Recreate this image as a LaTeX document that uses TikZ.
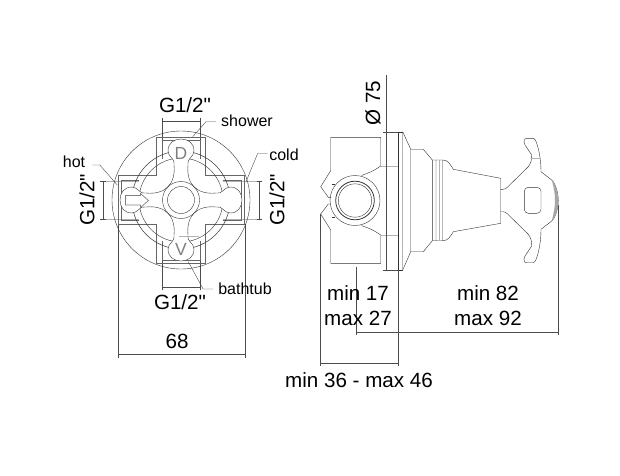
\documentclass[tikz,border=0pt]{standalone}
\usepackage{fontspec}
\newfontfamily\labelfont{Liberation Sans}
\tikzset{
  part/.style={line width=0.4pt,black!80},
  portline/.style={line width=0.35pt,black!60},
  greyline/.style={line width=1.1pt,black!30},
  dimline/.style={line width=0.4pt,black!70,|-|},
  extline/.style={line width=0.4pt,black!70},
  bigtext/.style={font=\labelfont\fontsize{20.6}{24}\selectfont,inner sep=0pt},
  smalltext/.style={font=\labelfont\fontsize{16}{19}\selectfont,inner sep=0pt},
  lettertext/.style={font=\labelfont\fontsize{17.5}{20}\selectfont,inner sep=0pt,black!50},
}
\begin{document}
\begin{tikzpicture}[x=1pt,y=-1pt]
\useasboundingbox[fill=white] (0,0) rectangle (620,475);

% front view
\coordinate (hub) at (181,200);
\begin{scope}[shift={(hub)}]
\draw[extline]
(-19,-80) -- (-19,-60) (19,-80) -- (19,-60)
(-19,60) -- (-19,88) (19,60) -- (19,88)
(-63,24) -- (-63,158) (64,24) -- (64,158);
\draw[greyline,line width=0.7pt]
(-81,-19) -- (-42,-19) (-81,19) -- (-42,19)
(42,-19) -- (81,-19) (42,19) -- (81,19);

\draw[portline]
(-24.5,-63) -- (24.5,-63) -- (24.5,-24.5) -- (63,-24.5) -- (63,24.5)
-- (24.5,24.5) -- (24.5,63) -- (-24.5,63) -- (-24.5,24.5) -- (-63,24.5)
-- (-63,-24.5) -- (-24.5,-24.5) -- cycle;
\draw[portline]
(-19,-41) -- (-19,-60) -- (19,-60) -- (19,-41)
(-19,41) -- (-19,60) -- (19,60) -- (19,41)
(-42,-20) -- (-60,-20) -- (-60,20) -- (-42,20)
(42,-20) -- (60,-20) -- (60,20) -- (42,20);

\draw[part] (0,0) circle (69);
\draw[part,line width=0.5pt] (0,0) circle (49);
\draw[part] (0,0) circle (42);

\draw[part,fill=white]
(-7,-35) .. controls (-5,-41) and (-13,-43) .. (-13,-49)
.. controls (-13,-57) and (-7,-61) .. (0,-61)
.. controls (7,-61) and (13,-57) .. (13,-49)
.. controls (13,-43) and (5,-41) .. (7,-35)
.. controls (5,-16) and (16,-5) .. (35,-7)
.. controls (41,-5) and (43,-13) .. (49,-13)
.. controls (57,-13) and (61,-7) .. (61,0)
.. controls (61,7) and (57,13) .. (49,13)
.. controls (43,13) and (41,5) .. (35,7)
.. controls (16,5) and (5,16) .. (7,35)
.. controls (5,41) and (13,43) .. (13,49)
.. controls (13,57) and (7,61) .. (0,61)
.. controls (-7,61) and (-13,57) .. (-13,49)
.. controls (-13,43) and (-5,41) .. (-7,35)
.. controls (-5,16) and (-16,5) .. (-35,7)
.. controls (-41,5) and (-43,13) .. (-49,13)
.. controls (-57,13) and (-61,7) .. (-61,0)
.. controls (-61,-7) and (-57,-13) .. (-49,-13)
.. controls (-43,-13) and (-41,-5) .. (-35,-7)
.. controls (-16,-5) and (-5,-16) .. (-7,-35) -- cycle;

\draw[part] (0,0) circle (18.5);
\draw[part] (0,0) circle (13.5);
\draw[greyline,line width=0.7pt] (-2,36) -- (18,36);
\draw[part,black!50,line width=0.7pt]
(-55.5,-4.5) -- (-40.5,-4.5) -- (-40.5,-6.5) -- (-32.5,0.5) -- (-40.5,7.5)
-- (-40.5,5) -- (-55.5,5) -- cycle;
\node[lettertext] (letterD) at (0,-47) {D};
\node[lettertext] (letterV) at (0,49) {V};
\end{scope}

\draw[dimline] (162,120.7) -- (200,120.7);
\draw[dimline] (162,287.5) -- (200,287.5);
\draw[dimline] (102.7,181) -- (102.7,219);
\draw[dimline] (259.5,181) -- (259.5,219);
\draw[dimline] (118,354) -- (245,354);

\node[bigtext] (porttop) at (185,105) {G1/2"};
\node[bigtext] (portbottom) at (180,302) {G1/2"};
\node[bigtext,rotate=90] (portleft) at (87,200) {G1/2"};
\node[bigtext,rotate=90] (portright) at (277,200) {G1/2"};
\node[bigtext] (width) at (177,341) {68};

\node[smalltext] (hot) at (74,162) {hot};
\node[smalltext] (shower) at (247,121) {shower};
\node[smalltext] (cold) at (284,155) {cold};
\node[smalltext] (bathtub) at (245,288.5) {bathtub};
\coordinate (hotend) at (117.3,185);
\coordinate (showerend) at (192.7,136.7);
\coordinate (coldend) at (246,181.7);
\coordinate (bathtubend) at (188.3,261.7);
\draw[extline] (hot.east) ++(7,3) -- ++(7.5,0) -- (hotend);
\draw[extline] (shower.west) ++(-5,0.7) -- ++(-10,0) -- (showerend);
\draw[extline] (cold.west) ++(-1.5,-1.5) -- ++(-10,0) -- (coldend);
\draw[extline] (bathtub.west) ++(-5,0.5) -- ++(-10,0) -- (bathtubend);

% side view
\draw[part]
(380.7,166) -- (380.7,137.3) -- (330.7,137.3) -- (330.7,170.7)
-- (320.7,186.7) -- (328.3,197.3) -- (331,197.3);
\draw[part]
(380.7,235) -- (380.7,263.3) -- (330.7,263.3) -- (330.7,230)
-- (320.7,214) -- (328.3,204) -- (331,204);
\draw[part]
(380.7,166) .. controls (372,172) and (368,173) .. (361.5,175.5)
(380.7,235) .. controls (372,229) and (368,228) .. (361.5,225.5);
\draw[part] (355,200.5) circle (25);
\draw[part,line width=0.8pt] (355,200.5) circle (19.3);
\draw[part] (355,200.5) circle (16.7);
\draw[part] (331.7,184) -- (335,184) (331.7,217) -- (335,217);

\draw[extline]
(385.7,75) -- (385.7,270)
(383.5,131.7) -- (398.3,131.7)
(383.5,270) -- (398.3,270);
\draw[greyline,line width=0.7pt]
(380.7,166) -- (398.3,166) (380.7,235) -- (398.3,235);
\draw[part]
(398.3,131.7) -- (398.3,270) (398.3,131.7) -- (402.7,131.7)
(398.3,270) -- (402.7,270);
\draw[greyline] (402.7,150) -- (402.7,251);
\draw[part]
(402.7,131.7) -- (410.7,149.3) -- (410.7,251.7) -- (402.7,270)
(402.7,131.7) -- (402.7,150) (402.7,270) -- (402.7,251);
\draw[greyline,line width=0.7pt] (410.7,149.3) -- (423.3,149.3);
\draw[part]
(410.7,251.7) -- (423.3,251.7) -- (432.3,240.7) -- (432.3,160) -- (423.3,149.3);
\draw[part]
(432.3,160) -- (442.7,160) .. controls (448,160) and (450,164) .. (453.3,169.3)
-- (500.7,178.3) -- (500.7,223.3) -- (453.3,231.7)
.. controls (450,237) and (448,240.7) .. (442.7,240.7) -- (432.3,240.7)
(436,160) -- (436,240.7)
(442.7,160) -- (442.7,240.7);
\draw[greyline] (439.3,160) -- (439.3,240.7);

% handle
\draw[part]
(500.7,189.3) -- (503,189.3) .. controls (505,189.3) and (506,188.5) .. (507.3,187.3)
-- (528.3,166.7) .. controls (531,163) and (532,159) .. (531.7,155)
-- (525,145) .. controls (523.5,142) and (523.5,138.3) .. (526.7,138.3)
-- (533.3,138.3) .. controls (535,138.3) and (536,141) .. (536.7,143.3)
.. controls (539,150) and (541,160) .. (541,171.7)
-- (551.7,180) .. controls (556,184) and (558.3,194) .. (558.3,200.5)
.. controls (558.3,207) and (556,217) .. (551.7,221)
-- (541,229.3) .. controls (541,241) and (539,251) .. (536.7,257.7)
.. controls (536,260) and (535,262.7) .. (533.3,262.7)
-- (526.7,262.7) .. controls (523.5,262.7) and (523.5,259) .. (525,256)
-- (531.7,246) .. controls (532,242) and (531,238) .. (528.3,234.3)
-- (507.3,213.7) .. controls (506,212.5) and (505,211.7) .. (503,211.7)
-- (500.7,211.7);
\draw[greyline,line width=0.7pt] (530.7,158.3) -- (540.7,158.3);
\fill[black!35]
(551.7,180) .. controls (556,184) and (558.3,194) .. (558.3,200.5)
.. controls (558.3,207) and (556,217) .. (551.7,221)
.. controls (554,212) and (555,207) .. (555,200.5)
.. controls (555,194) and (554,188) .. (551.7,180) -- cycle;
\draw[part,rounded corners=4pt] (524.3,187.3) rectangle (541,213.3);

% dimensions of the side view
\draw[extline] (320.3,214) -- (320.3,365);
\draw[extline] (398.3,270) -- (398.3,365);
\draw[extline] (355.7,266.7) -- (355.7,335);
\draw[extline] (558.3,205) -- (558.3,335);
\draw[dimline] (355.7,332.3) -- (398.3,332.3);
\draw[dimline] (398.3,332.3) -- (558.3,332.3);
\draw[dimline] (320.3,363.3) -- (398.3,363.3);
\draw[dimline] (385.7,131.7) -- (385.7,270);

\node[bigtext,rotate=90] (diameter) at (373,103) {Ø 75};
\node[bigtext] (minsmall) at (358,292.7) {min 17};
\node[bigtext] (maxsmall) at (358,318) {max 27};
\node[bigtext] (minlarge) at (488,292.7) {min 82};
\node[bigtext] (maxlarge) at (488,318) {max 92};
\node[bigtext] (total) at (359,380.5) {min 36 - max 46};
\end{tikzpicture}
\end{document}
